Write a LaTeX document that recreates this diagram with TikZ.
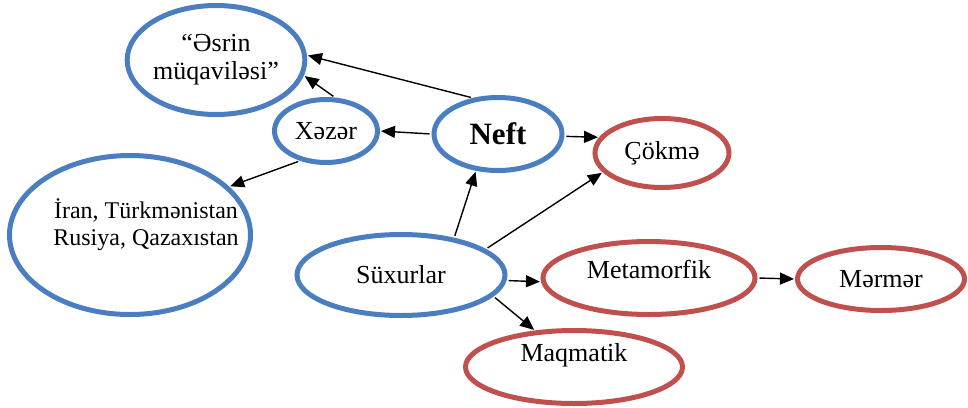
\documentclass[tikz,border=0pt]{standalone}
\usepackage{fontspec}
\setmainfont{Liberation Serif}
\usetikzlibrary{shapes.geometric,arrows.meta}
\definecolor{ovalblue}{RGB}{74,126,193}
\definecolor{ovalred}{RGB}{192,80,77}
\begin{document}
\begin{tikzpicture}[x=1pt,y=-1pt,
  oval/.style={ellipse,line width=5pt,inner sep=0pt,align=center,
    font=\fontsize{26}{28}\selectfont},
  blueoval/.style={oval,draw=ovalblue},
  redoval/.style={oval,draw=ovalred},
  link/.style={line width=1.4pt,-{Triangle[length=14pt,width=12pt]},shorten <=2pt,shorten >=1pt}]
  \useasboundingbox (0,0) rectangle (968,407);

  %blue ovals
  \node[blueoval,minimum width=173pt,minimum height=109pt] (esrin) at (216,60) {“Əsrin\\müqaviləsi”};
  \node[blueoval,minimum width=103pt,minimum height=63pt] (xezer) at (326,131) {Xəzər};
  \node[blueoval,minimum width=241pt,minimum height=159pt,
    label={[align=center,font=\fontsize{24}{27}\selectfont,xshift=16pt,yshift=10pt]center:İran, Türkmənistan\\Rusiya, Qazaxıstan}] (iran) at (130,235) {};
  \node[blueoval,minimum width=128pt,minimum height=73pt,font=\fontsize{31}{33}\selectfont\bfseries] (neft) at (498,134) {Neft};
  \node[blueoval,minimum width=208pt,minimum height=81pt] (suxur) at (401,275) {Süxurlar};

  %red ovals
  \node[redoval,minimum width=134pt,minimum height=69pt] (cokme) at (662,153) {Çökmə};
  \node[redoval,minimum width=212pt,minimum height=73pt,text depth=18pt] (metam) at (649,278) {Metamorfik};
  \node[redoval,minimum width=167pt,minimum height=63pt] (mermer) at (881,279) {Mərmər};
  \node[redoval,minimum width=217pt,minimum height=73pt,text depth=30pt] (maqma) at (574,367) {Maqmatik};

  %arrows
  \draw[link] (neft.125) -- (esrin.3);
  \draw[link] (xezer.75) -- (esrin.-10);
  \draw[link] (neft.west) -- (xezer.east);
  \draw[link] (xezer.229) -- (iran.26);
  \draw[link] (neft.-2) -- (cokme.166);
  \draw[link] (suxur.35) -- (neft.239);
  \draw[link] (suxur.17) -- (cokme.198);
  \draw[link] (suxur.-3) -- (metam.182);
  \draw[link] (suxur.-13) -- (maqma.137);
  \draw[link] (metam.east) -- (mermer.west);
\end{tikzpicture}
\end{document}
